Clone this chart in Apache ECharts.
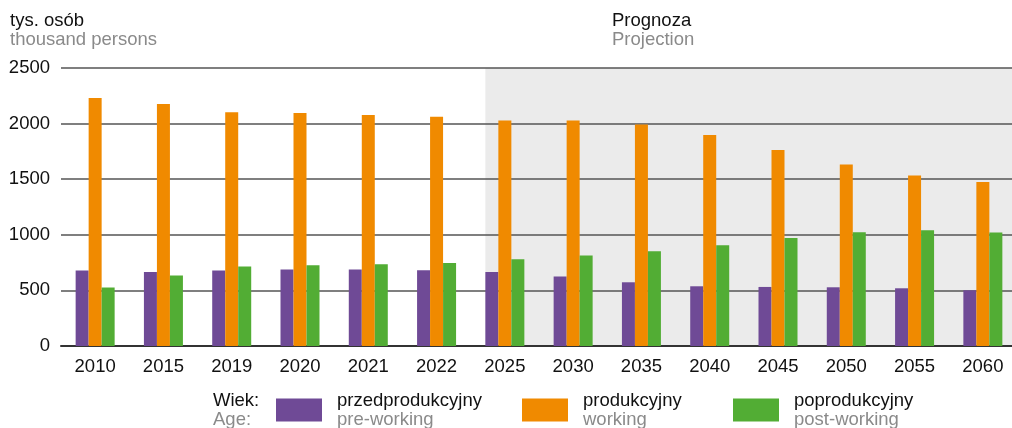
<!DOCTYPE html>
<html>
<head>
<meta charset="utf-8">
<script src="https://cdn.jsdelivr.net/npm/echarts@6/dist/echarts.min.js"></script>
<style>
  html, body { margin: 0; padding: 0; background: #fff; overflow: hidden; }
  /* wykres jest o 5px szerszy niz okno - siatka wychodzi za prawa krawedz jak w oryginale */
  #main { width: 1017px; height: 428px; }
</style>
</head>
<body>
<div id="main"></div>
<script>
// dane (tys. osób)
var years = ['2010', '2015', '2019', '2020', '2021', '2022', '2025', '2030', '2035', '2040', '2045', '2050', '2055', '2060'];
var preWorking = [680, 665, 678, 688, 688, 681, 666, 625, 573, 537, 531, 528, 519, 501];
var working = [2230, 2176, 2103, 2095, 2077, 2061, 2029, 2029, 1993, 1897, 1762, 1633, 1534, 1474];
var postWorking = [526, 633, 714, 726, 735, 747, 780, 814, 852, 906, 972, 1024, 1041, 1021];
var yTicks = [0, 500, 1000, 1500, 2000, 2500];
var projectionStart = '2025';

var FONT = '"Liberation Sans", Arial, sans-serif';
var FS = 18.5;
var BAR_W = 13;

var names = ['przedprodukcyjny', 'produkcyjny', 'poprodukcyjny'];
var subNames = { przedprodukcyjny: 'pre-working', produkcyjny: 'working', poprodukcyjny: 'post-working' };
var colors = ['#6f4a96', '#f08a00', '#52ad34'];
var legendLeft = [276, 522, 733];

var myChart = echarts.init(document.getElementById('main'));

function makeLegend(i) {
  return {
    data: [names[i]],
    left: legendLeft[i],
    top: 391,
    padding: 0,
    icon: 'rect',
    itemWidth: 46,
    itemHeight: 23,
    selectedMode: false,
    formatter: function (n) { return '{a|' + n + '}\n{b|' + subNames[n] + '}'; },
    textStyle: {
      padding: [0, 0, 0, 10],
      rich: {
        a: { fontFamily: FONT, fontSize: FS, color: '#111', lineHeight: 19 },
        b: { fontFamily: FONT, fontSize: FS, color: '#8a8a8a', lineHeight: 19 }
      }
    }
  };
}

function makeSeries(i, data) {
  return {
    name: names[i],
    type: 'bar',
    data: data,
    barWidth: BAR_W,
    barGap: '0%',
    itemStyle: { color: colors[i] },
    emphasis: { disabled: true }
  };
}

var option = {
  animation: false,
  textStyle: { fontFamily: FONT },
  title: [
    {
      text: 'tys. osób', subtext: 'thousand persons',
      left: 10, top: 11, itemGap: 0, padding: 0,
      textStyle: { fontFamily: FONT, fontSize: FS, fontWeight: 'normal', color: '#111', lineHeight: 19 },
      subtextStyle: { fontFamily: FONT, fontSize: FS, color: '#8a8a8a', lineHeight: 19 }
    },
    {
      text: 'Prognoza', subtext: 'Projection',
      left: 612, top: 11, itemGap: 0, padding: 0,
      textStyle: { fontFamily: FONT, fontSize: FS, fontWeight: 'normal', color: '#111', lineHeight: 19 },
      subtextStyle: { fontFamily: FONT, fontSize: FS, color: '#8a8a8a', lineHeight: 19 }
    }
  ],
  legend: [makeLegend(0), makeLegend(1), makeLegend(2)],
  grid: { left: 61, right: 0, top: 68, bottom: 82, containLabel: false },
  xAxis: {
    type: 'category',
    data: years,
    axisTick: { show: false },
    axisLine: { lineStyle: { color: '#333', width: 2 } },
    axisLabel: { fontFamily: FONT, fontSize: FS, color: '#111', margin: 11 }
  },
  yAxis: {
    type: 'value',
    min: yTicks[0],
    max: yTicks[yTicks.length - 1],
    interval: yTicks[1] - yTicks[0],
    axisLabel: {
      fontFamily: FONT, fontSize: FS, color: '#111', margin: 11,
      formatter: function (v) { return String(v); }
    },
    splitLine: { lineStyle: { color: '#555', width: 1.5 } }
  },
  series: [makeSeries(0, preWorking), makeSeries(1, working), makeSeries(2, postWorking)]
};

myChart.setOption(option);

// szare tło prognozy - liczone z osi
var gridRect = myChart.getModel().getComponent('grid').coordinateSystem.getRect();
var x0 = myChart.convertToPixel({ xAxisIndex: 0 }, projectionStart) - BAR_W * 1.5;
myChart.setOption({
  graphic: [
    {
      type: 'rect',
      z: -10,
      silent: true,
      shape: { x: x0, y: gridRect.y, width: gridRect.x + gridRect.width - x0, height: gridRect.height },
      style: { fill: '#ebebeb' }
    },
    {
      type: 'text',
      left: 213,
      top: 391,
      silent: true,
      style: {
        text: '{a|Wiek:}\n{b|Age:}',
        rich: {
          a: { fontFamily: FONT, fontSize: FS, fill: '#111', lineHeight: 19 },
          b: { fontFamily: FONT, fontSize: FS, fill: '#8a8a8a', lineHeight: 19 }
        }
      }
    }
  ]
});
</script>
</body>
</html>
